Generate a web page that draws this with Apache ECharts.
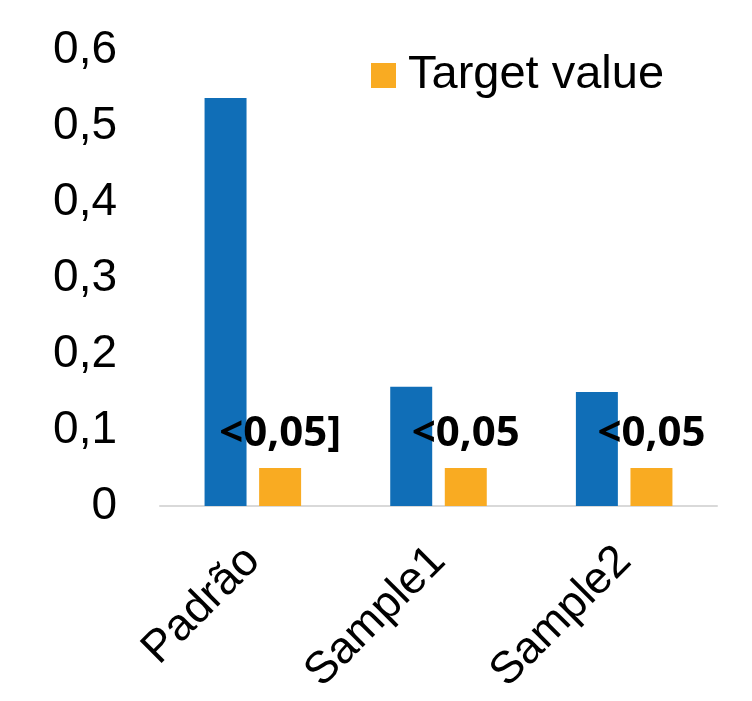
<!DOCTYPE html>
<html>
<head>
<meta charset="utf-8">
<style>
    html, body { margin: 0; padding: 0; background: #fff; }
    #chart { width: 752px; height: 701px; }
</style>
<script src="https://cdn.jsdelivr.net/npm/echarts@6/dist/echarts.min.js"></script>
</head>
<body>
<div id="chart"></div>
<script>
// dados
var categories = ['Padrão', 'Sample1', 'Sample2'];
var measured = [0.537, 0.157, 0.150];
var target = [0.05, 0.05, 0.05];
var targetLabels = ['<0,05]', '<0,05', '<0,05'];
var yTicks = [0, 0.1, 0.2, 0.3, 0.4, 0.5, 0.6];

var myChart = echarts.init(document.getElementById('chart'));
var option = {
    animation: false,
    grid: { left: 160, right: 35, top: 50, bottom: 195, containLabel: false },
    legend: {
        data: ['Target value'],
        left: 366, top: 47,
        itemWidth: 25, itemHeight: 25,
        icon: 'rect',
        textStyle: { fontFamily: 'Liberation Sans', fontSize: 47, color: '#000', padding: [0, 0, 0, 7] }
    },
    xAxis: {
        type: 'category',
        data: categories,
        axisLine: { lineStyle: { color: '#D9D9D9', width: 2 } },
        axisTick: { show: false },
        axisLabel: {
            rotate: 45,
            margin: 48,
            interval: 0,
            fontFamily: 'Liberation Sans',
            fontSize: 45,
            color: '#000'
        }
    },
    yAxis: {
        type: 'value',
        min: yTicks[0],
        max: yTicks[yTicks.length - 1],
        interval: 0.1,
        axisLine: { show: false },
        axisTick: { show: false },
        splitLine: { show: false },
        axisLabel: {
            margin: 43,
            fontFamily: 'Liberation Sans',
            fontSize: 46,
            color: '#000',
            formatter: function (v) {
                return String(Math.round(v * 10) / 10).replace('.', ',');
            }
        }
    },
    series: [{
        name: 'Measured',
        type: 'bar',
        data: measured,
        barGap: '30%',
        barCategoryGap: '48%',
        itemStyle: { color: '#106EB7' }
    }, {
        name: 'Target value',
        type: 'bar',
        data: target,
        itemStyle: { color: '#F9AB22' },
        label: {
            show: true,
            position: 'top',
            distance: 13,
            fontFamily: 'Open Sans',
            fontWeight: 'bold',
            fontSize: 42,
            color: '#000',
            formatter: function (p) { return targetLabels[p.dataIndex]; }
        }
    }]
};
myChart.setOption(option);
</script>
</body>
</html>
